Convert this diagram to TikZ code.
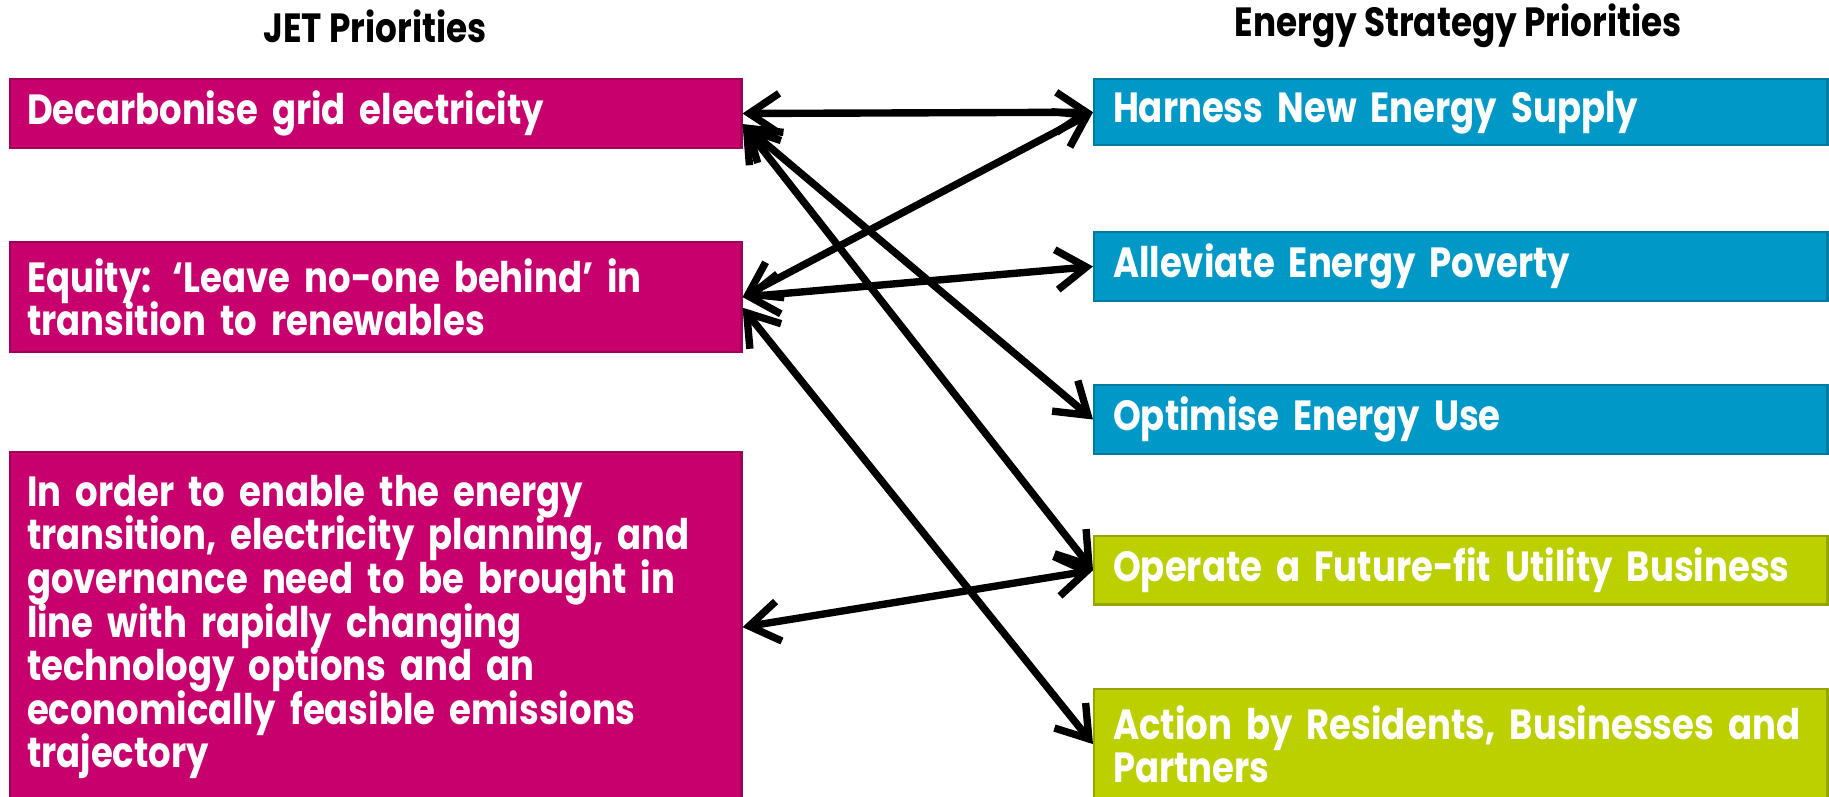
\documentclass[tikz,border=0pt]{standalone}
\usepackage{fontspec}
\setmainfont{Poppins}[FakeStretch=0.84]
\usetikzlibrary{arrows.meta}
\definecolor{jetpink}{RGB}{199,0,110}
\definecolor{esblue}{RGB}{0,153,199}
\definecolor{esgreen}{RGB}{188,208,0}
\newcommand\tightlines{\lineskiplimit-10pt\lineskip0pt\relax}
\begin{document}
\begin{tikzpicture}[x=0.01cm, y=-0.01cm,
  font=\bfseries\fontsize{12}{12.4}\selectfont\tightlines,
  title/.style={font=\bfseries\fontsize{11.6}{12}\selectfont},
  jetbox/.style={rectangle, draw=jetpink!80!black, fill=jetpink, text=white,
    anchor=north west, text width=6.97cm, inner xsep=0.17cm, align=left, line width=0.6pt},
  esbox/.style={rectangle, draw=#1!80!black, fill=#1, text=white,
    anchor=north west, text width=6.95cm, inner xsep=0.19cm, align=left, line width=0.6pt},
  link/.style={{Straight Barb[length=3mm,width=4mm]}-{Straight Barb[length=3mm,width=4mm]},
    line width=2.1pt, line cap=round, line join=round}]
  \useasboundingbox (0,0) rectangle (1829,796);
  \node[title] (jettitle) at (375,26) {JET Priorities};
  \node[title] (estitle) at (1458,26) {Energy Strategy Priorities};

  \node[jetbox, minimum height=0.63cm] (grid) at (9,78) {Decarbonise grid electricity};
  \node[jetbox, minimum height=1.10cm] (equity) at (9,241)
    {Equity: ‘Leave no-one behind’ in\\transition to renewables};
  \node[jetbox, minimum height=3.5cm] (plan) at (9,451)
    {In order to enable the energy\\transition, electricity planning, and\\governance need to be brought in\\line with rapidly changing\\technology options and an\\economically feasible emissions\\trajectory};

  \node[esbox=esblue, minimum height=0.62cm] (supply) at (1093,78) {Harness New Energy Supply};
  \node[esbox=esblue, minimum height=0.62cm] (poverty) at (1093,231) {Alleviate Energy Poverty};
  \node[esbox=esblue, minimum height=0.62cm] (use) at (1093,384) {Optimise Energy Use};
  \node[esbox=esgreen, minimum height=0.62cm] (utility) at (1093,535) {Operate a Future-fit Utility Business};
  \node[esbox=esgreen, minimum height=1.10cm] (action) at (1093,688)
    {Action by Residents, Businesses and\\Partners};

  \draw[link] (grid.east) -- (supply.west);
  \draw[link] (equity.east) -- (supply.west);
  \draw[link] (equity.east) -- (poverty.west);
  \draw[link] ([yshift=-3pt]grid.east) -- (use.west);
  \draw[link] ([yshift=-3pt]grid.east) -- (utility.west);
  \draw[link] ([yshift=-3pt]equity.east) -- (action.west);
  \draw[link] (plan.east) -- (utility.west);
\end{tikzpicture}
\end{document}
